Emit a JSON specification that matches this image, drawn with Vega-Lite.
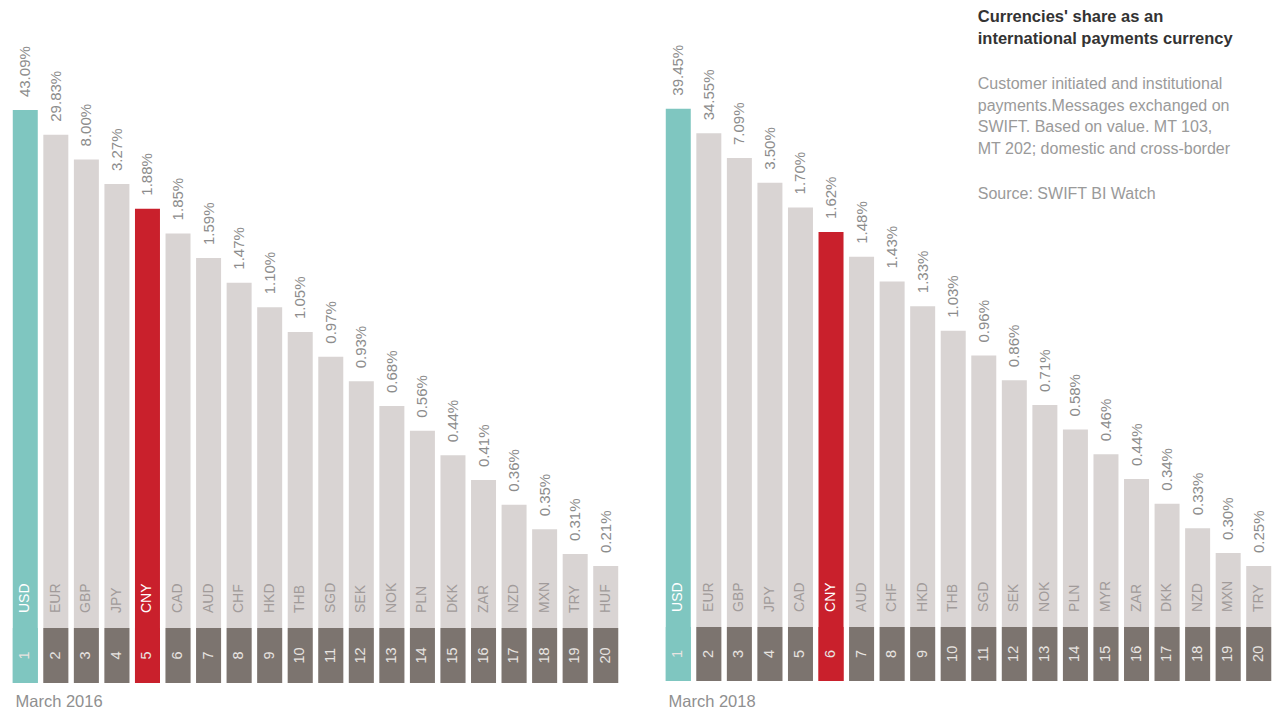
{
  "$schema": "https://vega.github.io/schema/vega-lite/v6.json",
  "padding": {"left": 10, "top": 0, "right": 0, "bottom": 0},
  "background": "white",
  "config": {"view": {"stroke": null}, "font": "Liberation Sans"},
  "spacing": 42,
  "datasets": {
    "m2016": [
      {"rank": 1, "currency": "USD", "share": 0.4309},
      {"rank": 2, "currency": "EUR", "share": 0.2983},
      {"rank": 3, "currency": "GBP", "share": 0.0800},
      {"rank": 4, "currency": "JPY", "share": 0.0327},
      {"rank": 5, "currency": "CNY", "share": 0.0188},
      {"rank": 6, "currency": "CAD", "share": 0.0185},
      {"rank": 7, "currency": "AUD", "share": 0.0159},
      {"rank": 8, "currency": "CHF", "share": 0.0147},
      {"rank": 9, "currency": "HKD", "share": 0.0110},
      {"rank": 10, "currency": "THB", "share": 0.0105},
      {"rank": 11, "currency": "SGD", "share": 0.0097},
      {"rank": 12, "currency": "SEK", "share": 0.0093},
      {"rank": 13, "currency": "NOK", "share": 0.0068},
      {"rank": 14, "currency": "PLN", "share": 0.0056},
      {"rank": 15, "currency": "DKK", "share": 0.0044},
      {"rank": 16, "currency": "ZAR", "share": 0.0041},
      {"rank": 17, "currency": "NZD", "share": 0.0036},
      {"rank": 18, "currency": "MXN", "share": 0.0035},
      {"rank": 19, "currency": "TRY", "share": 0.0031},
      {"rank": 20, "currency": "HUF", "share": 0.0021}
    ],
    "m2018": [
      {"rank": 1, "currency": "USD", "share": 0.3945},
      {"rank": 2, "currency": "EUR", "share": 0.3455},
      {"rank": 3, "currency": "GBP", "share": 0.0709},
      {"rank": 4, "currency": "JPY", "share": 0.0350},
      {"rank": 5, "currency": "CAD", "share": 0.0170},
      {"rank": 6, "currency": "CNY", "share": 0.0162},
      {"rank": 7, "currency": "AUD", "share": 0.0148},
      {"rank": 8, "currency": "CHF", "share": 0.0143},
      {"rank": 9, "currency": "HKD", "share": 0.0133},
      {"rank": 10, "currency": "THB", "share": 0.0103},
      {"rank": 11, "currency": "SGD", "share": 0.0096},
      {"rank": 12, "currency": "SEK", "share": 0.0086},
      {"rank": 13, "currency": "NOK", "share": 0.0071},
      {"rank": 14, "currency": "PLN", "share": 0.0058},
      {"rank": 15, "currency": "MYR", "share": 0.0046},
      {"rank": 16, "currency": "ZAR", "share": 0.0044},
      {"rank": 17, "currency": "DKK", "share": 0.0034},
      {"rank": 18, "currency": "NZD", "share": 0.0033},
      {"rank": 19, "currency": "MXN", "share": 0.0030},
      {"rank": 20, "currency": "TRY", "share": 0.0025}
    ]
  },
  "hconcat": [
    {
      "width": 611,
      "height": 683,
      "data": {"name": "m2016"},
      "layer": [
        {
          "mark": {"type": "bar"},
          "encoding": {
            "x": {"field": "rank", "type": "ordinal", "sort": "ascending",
              "scale": {"type": "band", "paddingInner": 0.182, "paddingOuter": 0.091},
              "axis": {"labels": false, "ticks": false, "domain": false, "title": "March 2016", "titleX": 5, "titleAlign": "left", "titleFontSize": 16.5, "titleFontWeight": "normal", "titleColor": "#8f8f8f", "titlePadding": 10}},
            "y": {"field": "rank", "type": "quantitative", "scale": {"domain": [0, 19, 20, 25], "range": [85.4, 554, 566, 683], "nice": false, "zero": false}, "axis": null},
            "y2": {"datum": 25},
            "color": {"condition": [{"test": "datum.currency === 'USD'", "value": "#7fc6c0"}, {"test": "datum.currency === 'CNY'", "value": "#c9202c"}], "value": "#d9d4d3"}
          }
        },
        {
          "mark": {"type": "bar"},
          "encoding": {
            "x": {"field": "rank", "type": "ordinal"},
            "y": {"datum": 22.65, "type": "quantitative"},
            "y2": {"datum": 25},
            "color": {"condition": [{"test": "datum.currency === 'USD'", "value": "#7fc6c0"}, {"test": "datum.currency === 'CNY'", "value": "#c9202c"}], "value": "#7c746f"}
          }
        },
        {
          "mark": {"type": "text", "angle": 270, "align": "left", "baseline": "middle", "dx": 13, "fontSize": 15, "color": "#8c8c8c"},
          "encoding": {
            "x": {"field": "rank", "type": "ordinal"},
            "y": {"field": "rank", "type": "quantitative"},
            "text": {"field": "share", "type": "quantitative", "format": ".2%"}
          }
        },
        {
          "mark": {"type": "text", "angle": 270, "align": "left", "baseline": "middle", "dx": 15, "fontSize": 14},
          "encoding": {
            "x": {"field": "rank", "type": "ordinal"},
            "y": {"datum": 22.65, "type": "quantitative"},
            "text": {"field": "currency", "type": "nominal"},
            "color": {"condition": {"test": "datum.currency === 'USD' || datum.currency === 'CNY'", "value": "#ffffff"}, "value": "#a19b9a"}
          }
        },
        {
          "mark": {"type": "text", "angle": 270, "align": "center", "baseline": "middle", "fontSize": 14.5, "color": "#e8e4e1"},
          "encoding": {
            "x": {"field": "rank", "type": "ordinal"},
            "y": {"datum": 23.82, "type": "quantitative"},
            "text": {"field": "rank", "type": "nominal"}
          }
        }
      ]
    },
    {
      "width": 611,
      "height": 683,
      "data": {"name": "m2018"},
      "layer": [
        {
          "mark": {"type": "bar"},
          "encoding": {
            "x": {"field": "rank", "type": "ordinal", "sort": "ascending",
              "scale": {"type": "band", "paddingInner": 0.182, "paddingOuter": 0.091},
              "axis": {"labels": false, "ticks": false, "domain": false, "title": "March 2018", "titleX": 5, "titleAlign": "left", "titleFontSize": 16.5, "titleFontWeight": "normal", "titleColor": "#8f8f8f", "titlePadding": 10}},
            "y": {"field": "rank", "type": "quantitative", "scale": {"domain": [0, 19, 20, 25], "range": [84, 553, 566, 681], "nice": false, "zero": false}, "axis": null},
            "y2": {"datum": 25},
            "color": {"condition": [{"test": "datum.currency === 'USD'", "value": "#7fc6c0"}, {"test": "datum.currency === 'CNY'", "value": "#c9202c"}], "value": "#d9d4d3"}
          }
        },
        {
          "mark": {"type": "bar"},
          "encoding": {
            "x": {"field": "rank", "type": "ordinal"},
            "y": {"datum": 22.65, "type": "quantitative"},
            "y2": {"datum": 25},
            "color": {"condition": [{"test": "datum.currency === 'USD'", "value": "#7fc6c0"}, {"test": "datum.currency === 'CNY'", "value": "#c9202c"}], "value": "#7c746f"}
          }
        },
        {
          "mark": {"type": "text", "angle": 270, "align": "left", "baseline": "middle", "dx": 13, "fontSize": 15, "color": "#8c8c8c"},
          "encoding": {
            "x": {"field": "rank", "type": "ordinal"},
            "y": {"field": "rank", "type": "quantitative"},
            "text": {"field": "share", "type": "quantitative", "format": ".2%"}
          }
        },
        {
          "mark": {"type": "text", "angle": 270, "align": "left", "baseline": "middle", "dx": 15, "fontSize": 14},
          "encoding": {
            "x": {"field": "rank", "type": "ordinal"},
            "y": {"datum": 22.65, "type": "quantitative"},
            "text": {"field": "currency", "type": "nominal"},
            "color": {"condition": {"test": "datum.currency === 'USD' || datum.currency === 'CNY'", "value": "#ffffff"}, "value": "#a19b9a"}
          }
        },
        {
          "mark": {"type": "text", "angle": 270, "align": "center", "baseline": "middle", "fontSize": 14.5, "color": "#e8e4e1"},
          "encoding": {
            "x": {"field": "rank", "type": "ordinal"},
            "y": {"datum": 23.82, "type": "quantitative"},
            "text": {"field": "rank", "type": "nominal"}
          }
        },
        {
          "data": {"values": [{"block": "title"}]},
          "mark": {"type": "text", "align": "left", "baseline": "middle", "dx": -6, "fontSize": 16.5, "fontWeight": "bold", "color": "#333333", "lineHeight": 22},
          "encoding": {
            "x": {"datum": 11, "type": "ordinal"},
            "y": {"datum": -2.73, "type": "quantitative"},
            "text": {"value": ["Currencies' share as an", "international payments currency"]}
          }
        },
        {
          "data": {"values": [{"block": "note"}]},
          "mark": {"type": "text", "align": "left", "baseline": "middle", "dx": -6, "fontSize": 16, "color": "#9a9a9a", "lineHeight": 21.7},
          "encoding": {
            "x": {"datum": 11, "type": "ordinal"},
            "y": {"datum": 0.0, "type": "quantitative"},
            "text": {"value": ["Customer initiated and institutional", "payments.Messages exchanged on", "SWIFT. Based on value. MT 103,", "MT 202; domestic and cross-border"]}
          }
        },
        {
          "data": {"values": [{"block": "source"}]},
          "mark": {"type": "text", "align": "left", "baseline": "middle", "dx": -6, "fontSize": 16, "color": "#9a9a9a"},
          "encoding": {
            "x": {"datum": 11, "type": "ordinal"},
            "y": {"datum": 4.45, "type": "quantitative"},
            "text": {"value": "Source: SWIFT BI Watch"}
          }
        }
      ]
    }
  ]
}
